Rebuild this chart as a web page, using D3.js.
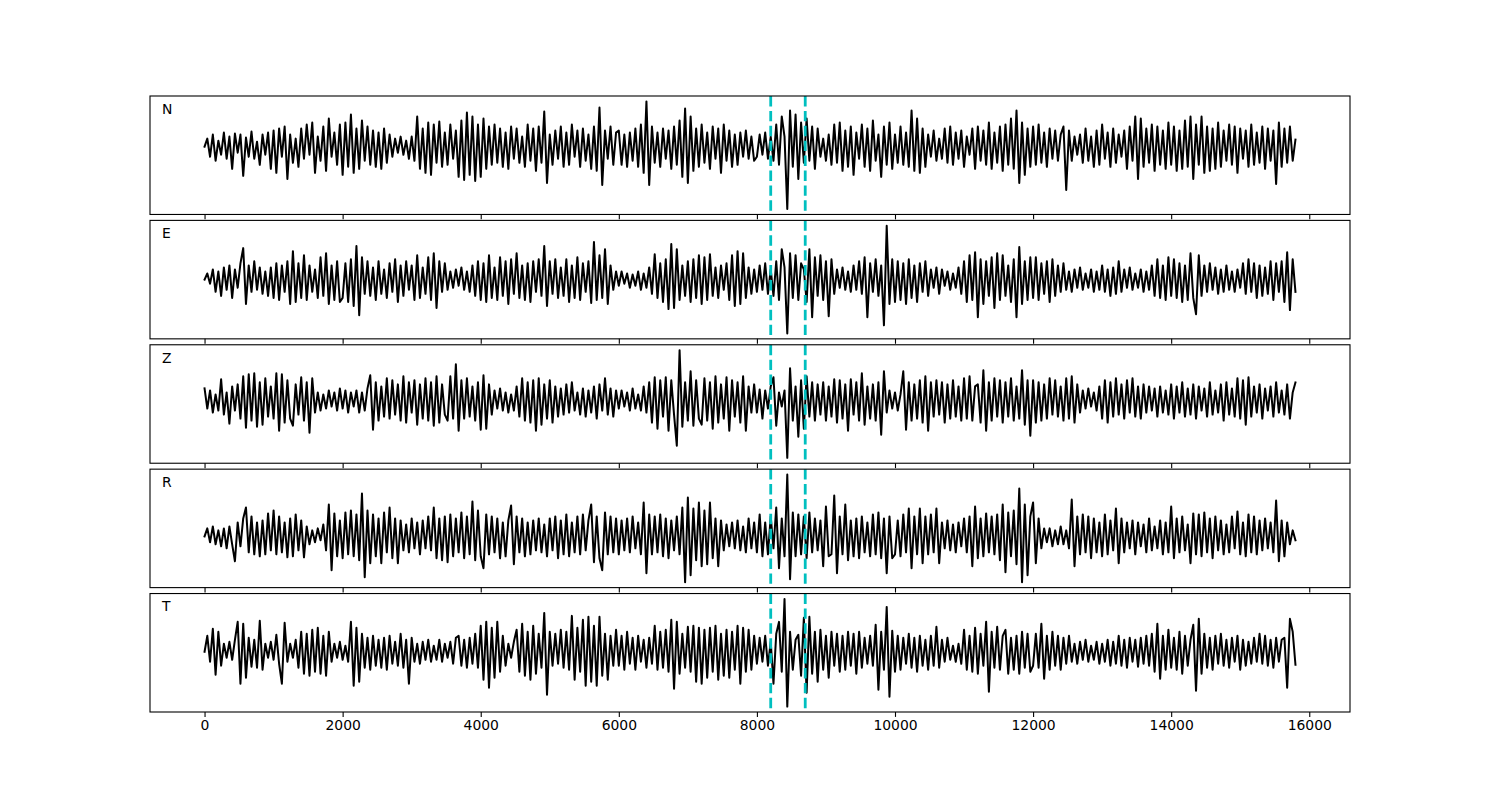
<!DOCTYPE html>
<html lang="en">
<head>
<meta charset="utf-8">
<title>Three-component traces</title>
<script src="https://cdn.jsdelivr.net/npm/d3@7"></script>
<style>
  body { margin: 0; background: #fff; }
  svg { display: block; font-family: "DejaVu Sans", sans-serif; }
  .frame { fill: none; stroke: #000; stroke-width: 1.1; }
  .trace { fill: none; stroke: #000; stroke-width: 2; stroke-linejoin: round; stroke-linecap: square; }
  .pick { stroke: #00bfbf; stroke-width: 2.8; stroke-dasharray: 10.4 4.5; }
  .tick line { stroke: #000; stroke-width: 1.1; }
  .tick text { fill: #000; font-size: 13.9px; }
</style>
</head>
<body>
<script>
var duration = 15800;
var components = ["N", "E", "Z", "R", "T"];
var xTicks = [0, 2000, 4000, 6000, 8000, 10000, 12000, 14000, 16000];
var picks = [8200, 8700];

var traceN = [
  0, 8, -10, 12, -14, 6, -8, 14, -12, 10, -22, 13, -6, 12, -29, 9, -10, 15, -12, 5, -18, 12, -8, 14, -22, 16, -26, 18, -10, 20, -32, 12, -16, 8, -20, 18, -12, 22, -8, 24, -26, 10, -14, 20, -24, 28, -10, 14, -18, 22,
  -28, 24, -20, 32, -26, 18, -22, 26, -14, 20, -18, 16, -20, 14, -22, 18, -16, 12, -10, 8, -6, 10, -8, 6, -12, 10, -14, 30, -22, 18, -26, 24, -28, 22, -16, 25, -20, 14, -18, 22, -12, 16, -30, 26, -33, 34, -28, 30, -34, 22,
  -30, 28, -22, 20, -18, 22, -16, 18, -20, 14, -22, 20, -12, 18, -16, 10, -20, 22, -14, 18, -24, 20, -16, 35, -36, 12, -18, 16, -12, 20, -20, 14, -18, 22, -10, 16, -20, 18, -14, 12, -22, 20, -24, 39, -38, 16, -12, 20, -18, 14,
  16, -18, 12, -20, 14, -14, 18, -20, 22, -26, 45, -38, 20, -16, 14, -20, 18, -12, 16, -22, 20, -18, 26, -30, 38, -36, 30, -24, 18, -20, 22, -16, 14, -22, 20, -12, 18, -26, 22, -14, 16, -20, 12, -18, 14, -10, 16, -12, 10, -14,
  -10, 12, -8, 14, -12, 10, -14, 22, -18, 30, 10, -62, 36, -20, 32, -32, 24, -16, 28, -14, 20, -22, 18, -10, 8, -14, 12, -18, 22, -16, 24, -24, 16, -20, 20, -28, 14, -12, 22, -20, 18, -24, 26, -14, 12, -30, 20, -18, 24, -22,
  12, -16, 20, -18, 14, -20, 36, -24, 28, -26, 18, -20, 12, -10, 16, -14, 8, -12, 18, -16, 20, -18, 14, -12, 16, -20, 10, -8, 18, -22, 20, -14, 16, -18, 24, -22, 14, -16, 20, -24, 22, -18, 28, -22, 36, -36, 24, -28, 18, -20,
  20, -18, 22, -16, 14, -20, 18, -12, 16, -14, 12, 20, -43, 16, -14, 10, -8, 12, -16, 18, -14, 10, -20, 16, -18, 22, -12, 14, -20, 18, -16, 12, -10, 16, -22, 20, -14, 30, -32, 28, -20, 18, -16, 22, -24, 20, -18, 16, -22, 24,
  -18, 20, -24, 16, -22, 26, -20, 30, -32, 22, -18, 30, -26, 20, -24, 18, -22, 24, -20, 16, -14, 22, -18, 20, -26, 18, -12, 16, -20, 22, -18, 14, -16, 20, -22, 18, -14, 16, -37, 24, -20, 18, -16, 20, -14, 7
];

var traceE = [
  0, 6, -4, 10, -12, 8, -16, 12, -10, 14, -18, 10, -8, 16, 31, -24, 14, -12, 18, -10, 12, -14, 8, -16, 12, -18, 16, -20, 14, -12, 18, -24, 28, -22, 16, -18, 24, -20, 14, -12, 10, -18, 22, -16, 26, -24, 14, -20, 18, -22,
  -18, 16, -22, 20, -26, 33, -35, 22, -14, 18, -16, 12, -20, 18, -14, 10, -18, 16, -12, 20, -22, 14, -16, 18, -10, 14, -20, 24, -18, 12, -14, 22, -20, 26, -28, 18, -12, 16, -10, 8, -8, 10, -6, 12, -10, 8, -12, 14, -16, 18,
  -20, 16, -22, 24, -18, 12, -20, 22, -16, 18, -24, 20, -14, 26, -18, 14, -20, 16, -22, 18, -12, 20, -16, 33, -26, 18, -14, 20, -18, 12, -16, 20, -22, 14, -18, 22, -20, 16, -12, 18, -23, 37, -20, 24, -18, 30, -24, 14, -10, 8,
  -6, 8, -4, 6, -8, 5, -6, 8, -10, 6, -8, 12, -14, 25, -18, 16, -22, 20, -29, 35, -28, 30, -20, 14, -16, 18, -22, 20, -18, 24, -24, 22, -20, 25, -16, 12, -18, 14, -10, 16, -20, 24, -26, 28, -24, 26, -18, 12, -14, 10,
  -12, 14, -10, 16, -14, 10, -16, 18, -20, 30, 12, -53, 26, -18, 24, -20, 16, 10, -22, 30, -37, 22, -16, 24, -20, 18, -36, 20, -14, 10, -8, 12, -10, 8, -12, 14, -10, 18, -14, 22, -37, 16, -12, 20, -16, 14, -45, 53, -24, 20,
  -22, 18, -20, 16, -24, 20, -18, 14, -22, 16, -12, 18, -16, 10, -8, 12, -14, 10, -6, 8, -10, 6, -8, 12, -14, 18, -22, 24, -20, 27, -37, 20, -24, 18, -16, 22, -28, 26, -20, 24, -16, 14, -22, 20, -37, 32, -24, 18, -20, 22,
  -18, 22, -20, 16, -14, 18, -22, 20, -16, 14, -12, 16, -10, 8, -12, 10, -8, 12, -10, 6, -8, 10, -12, 8, -10, 14, -12, 10, -16, 12, -14, 18, -12, 10, -8, 12, -10, 6, -8, 10, -12, 8, -10, 14, -16, 20, -18, 14, -20, 22,
  -16, 20, -18, 16, -22, 14, -20, 26, -18, -34, 24, -16, 14, -12, 16, -10, 12, -14, 10, -12, 14, -10, 8, -12, 10, -8, 16, -14, 20, -12, 16, -18, 14, -16, 12, -14, 18, -20, 16, -12, 18, -22, 27, -30, 20, -12
];

var traceZ = [
  12, -8, 10, -12, 6, -10, 21, -14, 8, -23, 14, -10, 16, -18, 24, -27, 26, -20, 27, -26, 18, -24, 22, -16, 14, -18, 27, -30, 26, -22, 20, -18, -25, 16, -14, 23, -20, 18, -32, 22, -12, 8, -10, 6, -8, 10, -6, 8, -10, 12,
  -8, 10, -12, 8, -6, 10, -12, 8, -10, 12, 25, -29, 18, -20, 14, -16, 22, -18, 20, -14, 16, -20, 24, -22, 18, -12, 20, -24, 16, -18, 22, -20, 18, -25, 24, -22, 16, -14, -20, 24, -18, 36, -30, 20, -18, 22, -16, 14, -20, 18,
  -29, 25, -28, 16, -14, 10, -8, 12, -10, 8, -12, 6, -10, 14, -16, 22, -20, 18, -22, 20, -30, 22, -24, 16, -18, 20, -22, 14, -16, 12, -14, 16, -12, 18, -10, 8, -14, 12, -16, 10, -12, 14, -18, 16, -10, 22, -14, 12, -16, 10,
  -8, 10, -6, 8, -10, 12, -8, 6, -10, 14, -12, 18, -22, 23, -28, 20, -16, 23, -30, 20, -14, -45, 50, -26, 18, -20, 29, -25, 20, -18, -24, 22, -20, 18, -28, 24, -22, 16, -18, 23, -30, 20, -16, 18, -22, 24, -30, 14, -12, 16,
  -12, 11, -18, 10, -8, 14, 23, -25, 8, -6, 10, -57, 32, -20, 14, -36, 20, -28, 24, -16, 18, -20, 16, -14, 18, -20, 14, -16, 21, -22, 20, -18, 16, -30, 21, -14, 18, -20, 27, -24, 14, -18, 16, -20, 18, -34, 29, -12, 10, -8,
  8, -10, 6, 29, -29, 18, -20, 16, -18, 20, -22, 24, -30, 18, -16, 20, -14, 18, -22, 16, -18, 20, -16, 14, -20, 22, -18, 24, -20, 14, 16, -22, 30, -30, 18, -20, 22, -16, 20, -22, 18, -16, 22, -20, 14, -18, 30, -24, 20, -35,
  20, -22, 18, -20, 16, -18, 22, -14, 20, -16, 14, -20, 22, -18, 24, -22, 16, -12, 10, -8, 12, -6, 8, -10, 14, -18, 20, -22, 18, -16, 22, -14, 16, -18, 20, -12, 22, -16, 14, -18, 16, -12, 14, -10, 12, -16, 14, -12, 10, -14,
  16, -18, 14, -12, 18, -16, 12, -14, 16, -18, 14, -10, 12, -16, 18, -14, 10, -12, 16, -20, 18, -14, 12, -16, 22, -18, 20, -24, 23, -16, 14, -12, 16, -18, 12, -10, 14, -16, 18, -12, 10, -14, 16, -18, 8, 18
];

var traceR = [
  0, 8, -6, 10, -8, 6, -10, 8, -12, 10, -8, -25, 14, -10, 18, 29, -16, 20, -18, 14, -20, 16, -18, 23, -14, 26, -18, 20, -16, 14, -21, 18, -20, 22, -14, 16, -21, 10, -8, 6, -6, 8, -4, 12, -14, 32, -34, 23, -20, 16,
  -22, 24, -18, 26, -20, 22, -24, 43, -41, 26, -27, 22, -20, 18, -27, 24, -16, 29, -22, 18, -27, 16, -14, 12, -16, 18, -12, 14, -18, 16, -12, 20, -14, 29, -22, 18, -24, 20, -26, 22, -20, 18, -16, 24, -22, 20, -18, 35, -24, 26,
  -20, -32, 22, -18, 20, -16, 18, -22, 14, -20, 16, 31, -28, 20, -16, 18, -20, 14, -18, 16, -14, 18, -16, 12, -20, 18, -14, 20, -22, 16, -18, 22, -20, 14, -16, 20, -18, 22, -14, 16, 32, -26, 20, -22, -34, 24, -18, 20, -16, 18,
  -18, 16, -14, 18, -16, 20, -12, 14, -18, 34, -37, 22, -18, 20, -16, 22, -20, 18, -22, 16, -14, 20, -18, 29, -46, 39, -39, 28, -24, 34, -30, 26, -28, 34, -22, 18, -30, 16, -14, 12, -10, 14, -12, 16, -14, 10, -16, 18, -12, 14,
  -16, 22, -20, 14, -18, 20, -12, 29, -32, 18, -20, 62, -43, 24, -20, 22, -18, 20, -22, 24, -16, 18, -14, 16, -30, 30, -20, -18, 41, -37, 20, -18, 32, -24, 16, -20, 18, -22, 20, -16, 14, -20, 22, -18, 24, -22, 18, -37, 20, -22,
  -18, 16, -20, 22, -16, 28, -32, 20, -18, 28, -27, 20, -18, 22, -16, 28, -27, 14, -12, 16, -14, 12, -16, 14, -10, 18, -16, 20, -30, 30, -22, 18, -20, 23, -16, 20, -18, 22, -24, 32, -36, 24, -20, 26, -28, 48, -46, 32, -39, 20,
  34, -27, 18, -12, 8, -6, 8, -10, 6, -8, 10, -8, 6, -12, 37, -30, 20, -18, 22, -16, 20, -22, 18, -16, 14, -20, 22, -18, 16, -14, 28, -27, 18, -16, 14, -12, 16, -18, 14, -10, 12, -16, 18, -14, 10, -12, 16, -18, 14, -16,
  30, -22, 18, -16, 20, -14, 12, -27, 23, -18, 22, -20, 24, -16, 18, -22, 20, -14, 16, -18, 12, -16, 20, -12, 25, -18, 14, -20, 22, -16, 20, -18, 16, -14, 18, -12, 14, -16, 36, -25, 16, -20, 14, -8, 6, -4
];

var traceT = [
  0, 16, -10, 23, -23, 20, -14, 8, -6, 10, -8, 12, 30, -32, 28, -26, 14, -15, 12, -16, 31, -18, 8, -6, 10, -8, 17, -12, -32, 29, -10, 8, -6, 12, -16, 20, -22, 18, -24, 22, -20, 24, -22, 16, -24, 20, -10, 8, -6, 10,
  -8, 6, -10, 30, -34, 24, -30, 18, -16, 14, -18, 16, -14, 12, -16, 14, -18, 16, -12, 10, -14, 18, -16, 12, -32, 14, -10, 8, -12, 10, -8, 12, -10, 6, -8, 12, -10, 8, -6, 10, -12, 14, 16, -14, 12, -16, 14, -12, 18, -16,
  26, -28, 30, -36, 24, -26, 30, -20, 16, -14, 8, -6, 10, 22, -20, 28, -24, 20, -28, 26, -22, 18, -16, 39, -43, 20, -14, 18, -12, 22, -16, 20, -18, 36, -28, 24, -20, 32, -34, 35, -30, 26, -34, 35, -24, 18, -28, 16, -14, 22,
  -14, 16, -18, 20, -12, 14, -18, 16, -10, 12, -16, 14, -12, 26, -18, 20, -16, 22, -20, 32, -37, 30, -22, 18, -16, 25, -20, 26, -30, 24, -32, 22, -26, 24, -20, 26, -28, 18, -24, 22, -26, 20, -18, 26, -32, 24, -20, 22, -18, 16,
  -12, 14, -10, 16, -14, 10, -32, 18, 30, -20, 53, -55, 20, -18, 12, 17, -24, 34, -41, 35, -22, 20, -30, 22, -18, 16, -26, 20, -14, 18, -20, 16, -18, 20, -14, 18, -22, 20, -16, 14, -12, 16, -14, 27, -38, 20, -18, 45, -45, 21,
  -20, 16, -18, 14, -12, 18, -16, 14, -20, 16, -14, 12, -18, 16, -14, 25, -16, 12, -10, 14, -8, 6, -10, 8, -12, 22, -18, 16, -20, 24, -22, 18, -14, 30, -40, 20, -16, 25, -18, 16, 22, -22, 14, -18, 16, -22, 20, -16, 18, -20,
  -14, 18, -16, 28, -27, 16, -18, 20, -14, 16, -18, 14, -12, 16, -10, 8, -12, 10, -8, 12, -10, 6, -8, 10, -12, 8, -10, 12, -14, 10, -12, 16, -14, 12, -16, 14, -10, 12, -15, 14, -12, 16, -14, 18, -20, 28, -27, 16, -18, 22,
  -16, 14, -18, 20, -22, 16, -14, 12, 27, -39, 33, -22, 18, -16, 14, -18, 16, -12, 18, -14, 12, -16, 14, -10, 16, -18, 12, -14, 10, -12, 14, -10, 18, -12, 16, -14, 12, -16, 14, -10, 12, 14, -36, 33, 20, -13
];

var traces = [traceN, traceE, traceZ, traceR, traceT];

var figW = 1500, figH = 800;
var axLeft = 150, axRight = 1350, axTop = 96, axBottom = 712;
var hspace = 0.05;
var nRows = components.length;
var panelH = (axBottom - axTop) / (nRows + hspace * (nRows - 1));
var gap = panelH * hspace;

var svg = d3.select("body").append("svg")
  .attr("width", figW)
  .attr("height", figH);

// matplotlib-like 5% margins on x
var xPad = duration * 0.05;
var x = d3.scaleLinear()
  .domain([0 - xPad, duration + xPad])
  .range([axLeft, axRight]);

// plain polyline, like plt.plot
var line = d3.line()
  .x(function(d) { return x(d[0]); })
  .y(function(d) { return d[1]; });

components.forEach(function(name, i) {
  var vals = traces[i];
  var y0 = axTop + i * (panelH + gap);
  var ext = d3.extent(vals);
  var yPad = (ext[1] - ext[0]) * 0.05;
  var y = d3.scaleLinear()
    .domain([ext[0] - yPad, ext[1] + yPad])
    .range([y0 + panelH, y0]);

  var g = svg.append("g").attr("class", "panel");

  var pts = vals.map(function(v, k) {
    return [k * duration / (vals.length - 1), y(v)];
  });

  g.append("path")
    .attr("class", "trace")
    .attr("d", line(pts));

  g.selectAll("line.pick")
    .data(picks)
    .enter().append("line")
    .attr("class", "pick")
    .attr("x1", function(d) { return x(d); })
    .attr("x2", function(d) { return x(d); })
    .attr("y1", y0)
    .attr("y2", y0 + panelH);

  g.append("rect")
    .attr("class", "frame")
    .attr("x", axLeft)
    .attr("y", y0)
    .attr("width", axRight - axLeft)
    .attr("height", panelH);

  var axis = d3.axisBottom(x)
    .tickValues(xTicks)
    .tickSize(4.9)
    .tickPadding(3.5)
    .tickFormat(i === nRows - 1 ? d3.format("d") : function() { return ""; });

  var ax = g.append("g")
    .attr("transform", "translate(0," + (y0 + panelH) + ")")
    .call(axis);
  ax.select(".domain").remove();
  ax.selectAll("text").attr("font-family", "DejaVu Sans").attr("font-size", "13.9px");

  g.append("text")
    .attr("x", axLeft + 12)
    .attr("y", y0 + panelH * 0.15)
    .attr("font-size", "13.9px")
    .attr("fill", "#000")
    .text(name);
});
</script>
</body>
</html>
